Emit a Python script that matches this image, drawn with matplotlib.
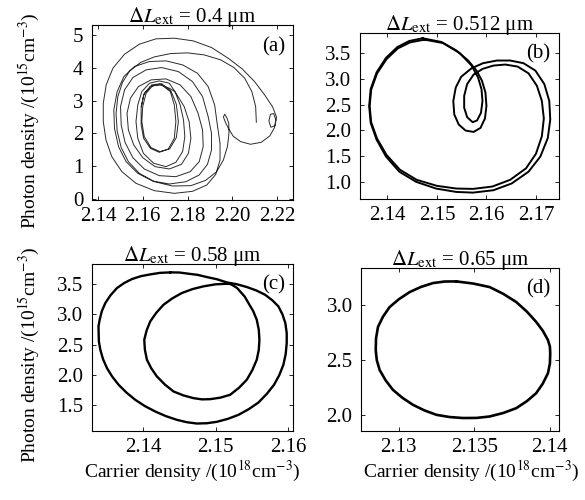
import matplotlib
matplotlib.use('Agg')
import matplotlib.pyplot as plt

plt.rcParams['font.family'] = ['Liberation Serif', 'DejaVu Serif']
plt.rcParams['mathtext.fontset'] = 'stix'

# (a) dL_ext = 0.4 um : transient trajectory (carrier 1e18, photon 1e15)
a_n = [2.2107, 2.2104, 2.2087, 2.2055, 2.2007, 2.1948, 2.1874, 2.1800, 2.1726, 2.1652,
       2.1590, 2.1542, 2.1510, 2.1489, 2.1481, 2.1486, 2.1504, 2.1536, 2.1585, 2.1652,
       2.1733, 2.1815, 2.1881, 2.1930, 2.1960, 2.1978, 2.1985, 2.1984, 2.1975, 2.1966,
       2.1960, 2.1969, 2.1984, 2.2004, 2.2037, 2.2081, 2.2129, 2.2167, 2.2188, 2.2194,
       2.2184, 2.2170, 2.2163, 2.2172, 2.2191, 2.2197, 2.2179, 2.2144, 2.2099, 2.2044,
       2.1981, 2.1907, 2.1825, 2.1741, 2.1659, 2.1585, 2.1519, 2.1467, 2.1437, 2.1424,
       2.1424, 2.1436, 2.1462, 2.1507, 2.1570, 2.1652, 2.1741, 2.1822, 2.1886, 2.1926,
       2.1945, 2.1945, 2.1933, 2.1921, 2.1892, 2.1844, 2.1778, 2.1704, 2.1630, 2.1563,
       2.1516, 2.1486, 2.1471, 2.1474, 2.1492, 2.1526, 2.1578, 2.1644, 2.1719, 2.1793,
       2.1852, 2.1889, 2.1907, 2.1907, 2.1892,
       2.1867, 2.1822, 2.1759, 2.1684, 2.1615, 2.1556, 2.1519, 2.1501, 2.1504, 2.1521,
       2.1556, 2.1607, 2.1674, 2.1748, 2.1812, 2.1852, 2.1870, 2.1867, 2.1847,
       2.1815, 2.1767, 2.1704, 2.1637, 2.1581, 2.1545, 2.1530, 2.1536, 2.1560, 2.1600,
       2.1655, 2.1719, 2.1773, 2.1804, 2.1815, 2.1807, 2.1785, 2.1753,
       2.1719, 2.1674, 2.1630, 2.1596, 2.1578, 2.1570, 2.1578, 2.1603, 2.1649, 2.1704,
       2.1748, 2.1778, 2.1788, 2.1782, 2.1767, 2.1744,
       2.1719, 2.1674, 2.1634, 2.1604, 2.1593, 2.1593, 2.1604, 2.1634, 2.1674, 2.1714,
       2.1741, 2.1748, 2.1741, 2.1723, 2.1684, 2.1644, 2.1615, 2.1600,
       2.1596, 2.1607, 2.1637, 2.1677, 2.1720, 2.1750, 2.1759, 2.1750, 2.1726, 2.1684,
       2.1640, 2.1607, 2.1593]
a_s = [2.337, 2.815, 3.272, 3.679, 4.004, 4.238, 4.390, 4.451, 4.431, 4.329,
       4.157, 3.902, 3.557, 3.120, 2.612, 2.073, 1.565, 1.138, 0.783, 0.528,
       0.396, 0.407, 0.569, 0.833, 1.189, 1.596, 2.002, 2.307, 2.480, 2.581,
       2.500, 2.337, 2.134, 1.911, 1.748, 1.667, 1.728, 1.921, 2.175, 2.419,
       2.602, 2.581, 2.378, 2.185, 2.236, 2.500, 2.815, 3.171, 3.577, 3.963,
       4.289, 4.614, 4.817, 4.898, 4.878, 4.715, 4.411, 3.984, 3.476, 2.917,
       2.358, 1.799, 1.291, 0.833, 0.478, 0.254, 0.173, 0.234, 0.427, 0.752,
       1.189, 1.697, 2.256, 2.866, 3.425, 3.831, 4.085, 4.207, 4.187, 4.035,
       3.730, 3.272, 2.713, 2.154, 1.596, 1.138, 0.783, 0.549, 0.457, 0.528,
       0.732, 1.057, 1.494, 2.002, 2.510,
       3.120, 3.577, 3.882, 4.004, 3.933, 3.699, 3.323, 2.815, 2.256, 1.728,
       1.260, 0.915, 0.711, 0.681, 0.833, 1.138, 1.596, 2.104, 2.612,
       3.120, 3.476, 3.659, 3.628, 3.425, 3.069, 2.612, 2.104, 1.646, 1.260,
       0.986, 0.915, 1.057, 1.392, 1.850, 2.358, 2.815, 3.171,
       3.526, 3.598, 3.526, 3.272, 2.866, 2.358, 1.850, 1.392, 1.087, 0.986,
       1.118, 1.443, 1.900, 2.409, 2.866, 3.272,
       3.374, 3.496, 3.425, 3.171, 2.764, 2.256, 1.850, 1.545, 1.423, 1.524,
       1.850, 2.358, 2.866, 3.272, 3.476, 3.445, 3.222, 2.815,
       2.358, 1.900, 1.565, 1.443, 1.524, 1.870, 2.358, 2.886, 3.293, 3.516,
       3.476, 3.222, 2.815]

# (b) dL_ext = 0.512 um : period-2 orbit, pass 1 (outer + middle loop)
b1_n = [2.1471, 2.1444, 2.1420, 2.1397, 2.1378, 2.1366, 2.1363, 2.1366, 2.1378, 2.1397,
        2.1424, 2.1458, 2.1498, 2.1539, 2.1573, 2.1614, 2.1651, 2.1685, 2.1709, 2.1724,
        2.1729, 2.1727, 2.1717, 2.1699, 2.1675, 2.1648, 2.1621, 2.1593, 2.1570, 2.1549,
        2.1538, 2.1533, 2.1535, 2.1544, 2.1558, 2.1574, 2.1588, 2.1597, 2.1600, 2.1598,
        2.1591, 2.1580, 2.1563, 2.1539, 2.1509, 2.1471]
b1_s = [3.788, 3.735, 3.618, 3.408, 3.127, 2.801, 2.474, 2.147, 1.820, 1.493,
        1.199, 1.003, 0.873, 0.807, 0.794, 0.840, 0.971, 1.199, 1.493, 1.853,
        2.212, 2.572, 2.899, 3.160, 3.304, 3.356, 3.356, 3.304, 3.206, 3.042,
        2.833, 2.572, 2.310, 2.114, 1.997, 1.971, 2.049, 2.232, 2.474, 2.735,
        2.964, 3.160, 3.356, 3.552, 3.716, 3.788]
# pass 2 (slightly inner outer loop + small inner loop)
b2_n = [2.1475, 2.1446, 2.1421, 2.1398, 2.1379, 2.1367, 2.1364, 2.1367, 2.1379, 2.1398,
        2.1425, 2.1459, 2.1500, 2.1539, 2.1573, 2.1612, 2.1648, 2.1680, 2.1700, 2.1712,
        2.1716, 2.1712, 2.1702, 2.1685, 2.1663, 2.1638, 2.1614, 2.1592, 2.1574, 2.1561,
        2.1555, 2.1555, 2.1561, 2.1572, 2.1581, 2.1589, 2.1592, 2.1590, 2.1583, 2.1570,
        2.1546, 2.1512, 2.1475]
b2_s = [3.761, 3.709, 3.592, 3.382, 3.108, 2.788, 2.474, 2.160, 1.840, 1.526,
        1.239, 1.042, 0.925, 0.873, 0.866, 0.912, 1.042, 1.265, 1.546, 1.886,
        2.232, 2.572, 2.866, 3.108, 3.239, 3.278, 3.258, 3.193, 3.082, 2.899,
        2.670, 2.441, 2.258, 2.160, 2.193, 2.343, 2.572, 2.801, 3.029, 3.258,
        3.500, 3.696, 3.761]

# (c) dL_ext = 0.58 um : outer loop and inner loop
c1_n = [2.14372, 2.14231, 2.14097, 2.13966, 2.13844, 2.13734, 2.13637, 2.13549, 2.13476, 2.13428,
        2.13398, 2.13382, 2.13384, 2.13387, 2.13407, 2.13444, 2.13499, 2.13572, 2.13660, 2.13769,
        2.13890, 2.14023, 2.14166, 2.14312, 2.14464, 2.14601, 2.14740, 2.14879, 2.15016, 2.15169,
        2.15315, 2.15458, 2.15591, 2.15706, 2.15807, 2.15880, 2.15936, 2.15968, 2.15982, 2.15982,
        2.15963, 2.15924, 2.15867, 2.15783, 2.15683, 2.15563, 2.15430, 2.15296, 2.15154, 2.15018,
        2.14878, 2.14752, 2.14625, 2.14497, 2.14372]
c1_s = [3.692, 3.684, 3.659, 3.629, 3.582, 3.515, 3.434, 3.317, 3.187, 3.054,
        2.912, 2.804, 2.692, 2.556, 2.418, 2.265, 2.115, 1.975, 1.841, 1.712,
        1.593, 1.490, 1.401, 1.325, 1.264, 1.225, 1.203, 1.208, 1.231, 1.280,
        1.346, 1.440, 1.549, 1.690, 1.841, 2.002, 2.170, 2.348, 2.527, 2.694,
        2.857, 2.998, 3.132, 3.233, 3.324, 3.394, 3.451, 3.496, 3.527, 3.579,
        3.615, 3.651, 3.670, 3.690, 3.692]
c2_n = [2.15154, 2.14995, 2.14832, 2.14681, 2.14533, 2.14402, 2.14280, 2.14181, 2.14097, 2.14047,
        2.14014, 2.14023, 2.14051, 2.14112, 2.14189, 2.14298, 2.14418, 2.14553, 2.14694, 2.14809,
        2.14924, 2.15065, 2.15200, 2.15321, 2.15430, 2.15507, 2.15568, 2.15596, 2.15605, 2.15596,
        2.15568, 2.15519, 2.15453, 2.15403, 2.15338, 2.15298, 2.15246, 2.15204, 2.15154]
c2_s = [3.505, 3.495, 3.462, 3.417, 3.352, 3.264, 3.159, 3.028, 2.885, 2.737,
        2.582, 2.416, 2.253, 2.110, 1.978, 1.846, 1.731, 1.667, 1.621, 1.601,
        1.604, 1.629, 1.676, 1.790, 1.923, 2.083, 2.253, 2.416, 2.582, 2.749,
        2.912, 3.055, 3.187, 3.291, 3.379, 3.434, 3.473, 3.500, 3.505]

# (d) dL_ext = 0.65 um : period-1 limit cycle
d_n = [2.13382, 2.13493, 2.13603, 2.13694, 2.13779, 2.13849, 2.13911, 2.13955, 2.13989, 2.14002,
       2.14004, 2.14002, 2.13989, 2.13955, 2.13911, 2.13849, 2.13779, 2.13694, 2.13603, 2.13516,
       2.13426, 2.13337, 2.13250, 2.13170, 2.13095, 2.13025, 2.12962, 2.12913, 2.12874, 2.12855,
       2.12848, 2.12850, 2.12863, 2.12896, 2.12940, 2.13003, 2.13073, 2.13147, 2.13227, 2.13304,
       2.13382]
d_s = [3.209, 3.190, 3.158, 3.096, 3.023, 2.937, 2.844, 2.764, 2.680, 2.620,
       2.560, 2.469, 2.381, 2.288, 2.201, 2.129, 2.066, 2.023, 1.991, 1.978,
       1.977, 1.986, 2.006, 2.046, 2.096, 2.159, 2.231, 2.318, 2.410, 2.499,
       2.590, 2.696, 2.799, 2.891, 2.978, 3.050, 3.113, 3.159, 3.194, 3.208,
       3.209]

titles = ['0.4', '0.512', '0.58', '0.65']
letters = ['(a)', '(b)', '(c)', '(d)']

fig = plt.figure(figsize=(5.85, 5.0), dpi=100)
axa = fig.add_axes([0.157, 0.600, 0.344, 0.350])
axb = fig.add_axes([0.615, 0.602, 0.340, 0.332])
axc = fig.add_axes([0.157, 0.138, 0.344, 0.334])
axd = fig.add_axes([0.617, 0.138, 0.338, 0.326])
axes = [axa, axb, axc, axd]

axa.plot(a_n, a_s, color='#2a2a2a', lw=0.7)
axb.plot(b1_n, b1_s, color='black', lw=1.4)
axb.plot(b2_n, b2_s, color='black', lw=1.4)
axc.plot(c1_n, c1_s, color='black', lw=1.7)
axc.plot(c2_n, c2_s, color='black', lw=1.7)
axd.plot(d_n, d_s, color='black', lw=1.9)

axa.set_xlim(2.1373, 2.2271)
axa.set_ylim(-0.03, 5.3)
axa.set_xticks([2.14, 2.16, 2.18, 2.20, 2.22])
axa.set_xticklabels(['2.14', '2.16', '2.18', '2.20', '2.22'])
axa.set_yticks([0, 1, 2, 3, 4, 5])

axb.set_xlim(2.1344, 2.1746)
axb.set_ylim(0.67, 3.89)
axb.set_xticks([2.14, 2.15, 2.16, 2.17])
axb.set_yticks([1.0, 1.5, 2.0, 2.5, 3.0, 3.5])
axb.set_yticklabels(['1.0', '1.5', '2.0', '2.5', '3.0', '3.5'])

axc.set_xlim(2.1329, 2.1607)
axc.set_ylim(1.08, 3.83)
axc.set_xticks([2.14, 2.15, 2.16])
axc.set_yticks([1.5, 2.0, 2.5, 3.0, 3.5])
axc.set_yticklabels(['1.5', '2.0', '2.5', '3.0', '3.5'])

axd.set_xlim(2.1275, 2.1406)
axd.set_ylim(1.86, 3.33)
axd.set_xticks([2.13, 2.135, 2.14])
axd.set_xticklabels(['2.13', '2.135', '2.14'])
axd.set_yticks([2.0, 2.5, 3.0])
axd.set_yticklabels(['2.0', '2.5', '3.0'])

for ax, t, lab in zip(axes, titles, letters):
    ax.set_title(r'$\Delta L_{\rm ext}$' + ' = ' + t + ' \u03bcm', fontsize=15, pad=2)
    ax.text(0.96, 0.93, lab, transform=ax.transAxes, ha='right', va='top', fontsize=15)
    ax.tick_params(direction='in', length=3, width=0.6, labelsize=15,
                   top=True, right=True)
    ax.tick_params(axis='x', pad=5)
    ax.tick_params(axis='y', pad=6)
    for sp in ax.spines.values():
        sp.set_linewidth(0.8)

ylab = r'Photon density /(10$^{15}$cm$^{-3}$)'
xlab = r'Carrier density /(10$^{18}$cm$^{-3}$)'
axa.set_ylabel(ylab, fontsize=14)
axc.set_ylabel(ylab, fontsize=14)
axa.yaxis.set_label_coords(-0.25, 0.455)
axc.yaxis.set_label_coords(-0.25, 0.455)
axc.set_xlabel(xlab, fontsize=14)
axd.set_xlabel(xlab, fontsize=14)
axc.xaxis.set_label_coords(0.5, -0.165)
axd.xaxis.set_label_coords(0.56, -0.17)

fig.savefig('out.png', dpi=100)
